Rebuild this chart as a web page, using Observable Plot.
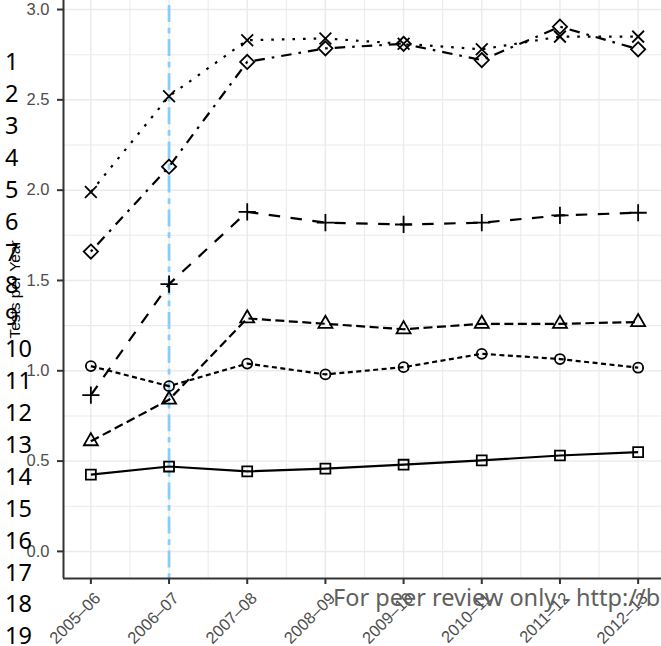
<!DOCTYPE html>
<html>
<head>
<meta charset="utf-8">
<script src="https://cdn.jsdelivr.net/npm/d3@7"></script>
<script src="https://cdn.jsdelivr.net/npm/@observablehq/plot@0.6"></script>
<style>
  html, body { margin: 0; padding: 0; background: #fff; overflow: hidden; }
  #chart { position: relative; width: 661px; height: 646px; overflow: hidden; }
  #chart svg { position: absolute; left: 0; top: 0; }
  .line-numbers {
    position: absolute; left: 5px; top: 46px;
    font-family: "Noto Sans", sans-serif; font-size: 23.5px; line-height: 31.9px;
    color: #000; margin: 0; padding: 0; list-style: none;
  }
  .footer {
    position: absolute; left: 333px; top: 582px;
    font-family: "Noto Sans", sans-serif; font-size: 23.5px; line-height: 30px;
    color: #606060; white-space: nowrap;
  }
</style>
</head>
<body>
<div id="chart"></div>
<script>
// Financial years on the x axis
const seasons = ["2005–06", "2006–07", "2007–08", "2008–09", "2009–10", "2010–11", "2011–12", "2012–13"];

// Tests per year, one array per group (named after the plotting symbol)
const timesValues    = [1.99, 2.52, 2.83, 2.84, 2.81, 2.78, 2.85, 2.85];
const diamondValues  = [1.66, 2.13, 2.71, 2.785, 2.81, 2.72, 2.905, 2.78];
const plusValues     = [0.865, 1.48, 1.88, 1.82, 1.81, 1.82, 1.86, 1.875];
const triangleValues = [0.61, 0.84, 1.29, 1.26, 1.23, 1.26, 1.26, 1.27];
const circleValues   = [1.026, 0.915, 1.04, 0.98, 1.02, 1.094, 1.065, 1.017];
const squareValues   = [0.425, 0.47, 0.443, 0.458, 0.48, 0.504, 0.531, 0.55];

const yTicks = [0, 0.5, 1, 1.5, 2, 2.5, 3];
const yMinorTicks = [0.25, 0.75, 1.25, 1.75, 2.25, 2.75];
const markedSeason = "2006–07";
const yTitle = "Tests per Year";

// Manuscript page furniture
const lineNumbers = [1, 2, 3, 4, 5, 6, 7, 8, 9, 10, 11, 12, 13, 14, 15, 16, 17, 18, 19];
const footerText = "For peer review only - http://b";

const groups = [
  {name: "times",    values: timesValues,    symbol: "times",    r: 5.4, dash: "2.6,8"},
  {name: "diamond",  values: diamondValues,  symbol: "diamond2", r: 6.4, dash: "2.6,7,10.5,7"},
  {name: "plus",     values: plusValues,     symbol: "plus",     r: 5.6, dash: "11.5,10.5"},
  {name: "triangle", values: triangleValues, symbol: "triangle", r: 5.2, dash: "9,4.5"},
  {name: "circle",   values: circleValues,   symbol: "circle",   r: 5.0, dash: "5,3.5"},
  {name: "square",   values: squareValues,   symbol: "square",   r: 5.6, dash: null}
];

const rows = groups.flatMap(g => g.values.map((v, i) => ({group: g.name, i, v})));
const seasonIndex = seasons.map((s, i) => i);
const xDomain = [-0.35, seasons.length - 1 + 0.35];
const yDomain = [-0.15, 3.05];

const gridColor = "#ebebeb";
const tickFontSize = 16.5;
const titleFontSize = 15.5;

const marks = [
  // panel grid
  Plot.ruleX(seasonIndex.slice(0, -1).map(i => i + 0.5), {stroke: gridColor, strokeWidth: 1.1}),
  Plot.ruleY(yMinorTicks, {stroke: gridColor, strokeWidth: 1.1}),
  Plot.ruleX(seasonIndex, {stroke: gridColor, strokeWidth: 1.5}),
  Plot.ruleY(yTicks, {stroke: gridColor, strokeWidth: 1.5}),
  // reference year
  Plot.ruleX([seasons.indexOf(markedSeason)], {
    stroke: "#87CEFA", strokeWidth: 2.8, strokeDasharray: "5.7,5.7,17,5.7", strokeDashoffset: 6.4
  })
];

for (const g of groups) {
  const data = rows.filter(d => d.group === g.name);
  marks.push(Plot.line(data, {
    x: "i", y: "v", stroke: "#000", strokeWidth: 2.2,
    strokeDasharray: g.dash ?? undefined, strokeLinecap: "butt"
  }));
}
for (const g of groups) {
  const data = rows.filter(d => d.group === g.name);
  marks.push(Plot.dot(data, {
    x: "i", y: "v", symbol: () => g.symbol, r: g.r,
    stroke: "#000", fill: "none", strokeWidth: 1.8
  }));
}

marks.push(
  // axis lines
  Plot.ruleX([xDomain[0]], {stroke: "#333", strokeWidth: 2}),
  Plot.ruleY([yDomain[0]], {stroke: "#333", strokeWidth: 2}),
  Plot.axisX({
    ticks: seasonIndex, tickFormat: i => seasons[i], tickRotate: -45,
    tickSize: 6, tickPadding: 2, stroke: "#333", strokeWidth: 2, fill: "#4d4d4d",
    fontSize: tickFontSize, label: null
  }),
  Plot.axisY({
    ticks: yTicks, tickFormat: d3.format(".1f"),
    tickSize: 6, tickPadding: 8, stroke: "#333", strokeWidth: 2, fill: "#4d4d4d",
    fontSize: tickFontSize, label: null
  }),
  Plot.axisY({
    ticks: [], tickSize: 0, label: yTitle, labelAnchor: "center", labelArrow: "none",
    labelOffset: 55, fill: "#000", fontSize: titleFontSize
  })
);

const chart = Plot.plot({
  width: 661,
  height: 646,
  marginLeft: 63,
  marginRight: 0,
  marginTop: 0,
  marginBottom: 68,
  style: {fontFamily: "'Liberation Sans', Arial, sans-serif", background: "#fff"},
  x: {type: "linear", domain: xDomain, range: [63, 665]},
  y: {domain: yDomain},
  symbol: {type: "identity"},
  marks
});

// Axis text: tick labels and the y title set directly on each text element
d3.select(chart).selectAll("text")
  .style("font-family", "'Liberation Sans', Arial, sans-serif")
  .style("font-size", tickFontSize + "px");
d3.select(chart).selectAll('g[aria-label="y-axis label"] text')
  .style("font-size", titleFontSize + "px");

// Slanted season labels hang just below-right of their ticks
d3.select(chart).selectAll('g[aria-label="x-axis tick label"]')
  .attr("transform", function () {
    const t = this.getAttribute("transform") || "";
    return "translate(7,9) " + t;
  });

const host = document.getElementById("chart");
host.appendChild(chart);

const numbers = document.createElement("ol");
numbers.className = "line-numbers";
for (const n of lineNumbers) {
  const li = document.createElement("li");
  li.textContent = n;
  numbers.appendChild(li);
}
host.appendChild(numbers);

const footer = document.createElement("div");
footer.className = "footer";
footer.textContent = footerText;
host.appendChild(footer);
</script>
</body>
</html>
